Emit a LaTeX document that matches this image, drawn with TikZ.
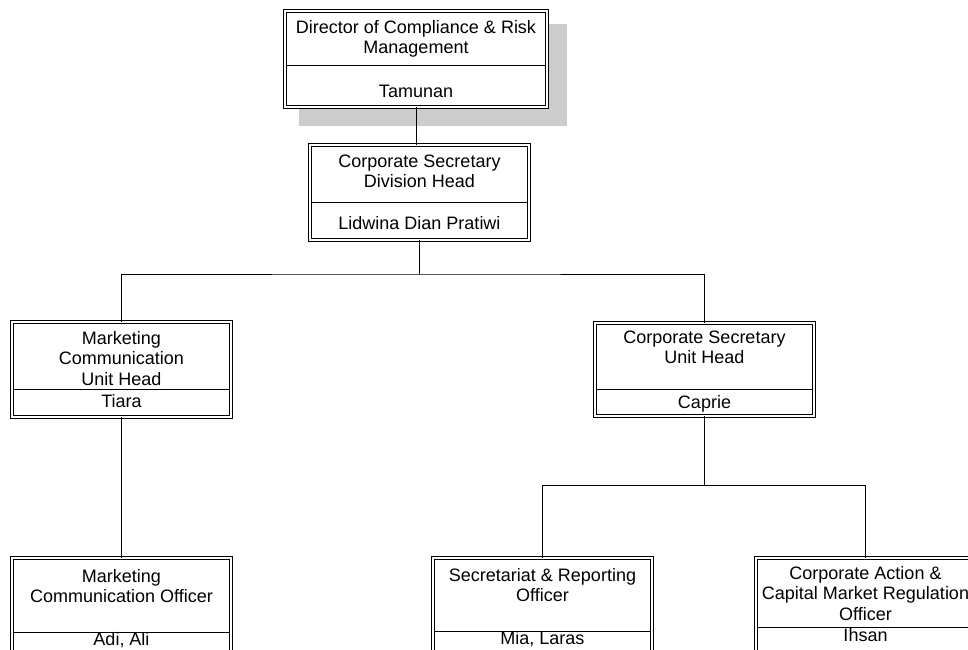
\documentclass[tikz,border=0pt]{standalone}
\usepackage{fontspec}
\setmainfont{Liberation Sans}
\usetikzlibrary{backgrounds}

\begin{document}
\begin{tikzpicture}[x=1pt, y=-1pt]
  \tikzstyle{unit} = [draw, fill=white, double, double distance=2pt, line width=0.9pt, inner sep=0, minimum width=219pt, minimum height=95pt]
  \tikzstyle{jobtext} = [font=\fontsize{18}{20.5}\selectfont, align=center, inner sep=0, anchor=base]
  \tikzstyle{nametext} = [jobtext]
  \tikzstyle{link} = [line width=0.9pt]

  \useasboundingbox (0,0) rectangle (968,649);
  \clip (0,0) rectangle (968,649);

  % boxes
  \node [unit, minimum width=262pt, minimum height=96pt] (U0) at (416,59) {};
  \node [unit] (U1) at (419.5,192.5) {};
  \node [unit] (U2) at (121.5,369.5) {};
  \node [unit, minimum height=93pt] (U3) at (704.5,369.5) {};
  \node [unit] (U4) at (121.5,605.5) {};
  \node [unit] (U5) at (542.5,605.5) {};
  \node [unit] (U6) at (865.5,605.5) {};

  \begin{scope}[on background layer]
    \fill [black!20] ([shift={(14,13)}]U0.north west) rectangle ([shift={(20,19)}]U0.south east);
  \end{scope}

  \foreach \u/\y in {U0/65, U1/202, U2/389, U3/389, U4/632, U5/631, U6/627}
    \draw [link] ([xshift=2pt]\u.west |- 0,\y) -- ([xshift=-2pt]\u.east |- 0,\y);

  % texts (base = last line)
  \node [jobtext] (T0) at (416,53.5) {Director of Compliance \& Risk\\Management};
  \node [nametext] (N0) at (416,97) {Tamunan};
  \node [jobtext] (T1) at (419.5,187.5) {Corporate Secretary\\Division Head};
  \node [nametext] (N1) at (419.5,229) {Lidwina Dian Pratiwi};
  \node [jobtext] (T2) at (121.5,385) {Marketing\\Communication\\Unit Head};
  \node [nametext] (N2) at (121.5,407) {Tiara};
  \node [jobtext] (T3) at (704.5,363.5) {Corporate Secretary\\Unit Head};
  \node [nametext] (N3) at (704.5,408) {Caprie};
  \node [jobtext] (T4) at (121.5,602.5) {Marketing\\Communication Officer};
  \node [nametext] (N4) at (121.5,645) {Adi, Ali};
  \node [jobtext] (T5) at (542.5,601.5) {Secretariat \& Reporting\\Officer};
  \node [nametext] (N5) at (542.5,644) {Mia, Laras};
  \node [jobtext] (T6) at (865.5,620) {Corporate Action \&\\Capital Market Regulation\\Officer};
  \node [nametext] (N6) at (865.5,641) {Ihsan};

  % connectors
  \coordinate (B1) at (U1.south |- 0,274);
  \coordinate (B2) at (U3.south |- 0,485);
  \draw [link] (U0.south) -- (U0.south |- U1.north);
  \draw [link] (U1.south) -- (B1);
  \draw [link] (U2.north) |- (B1) -| (U3.north);
  \draw [link] (U2.south) -- (U4.north);
  \draw [link] (U3.south) -- (B2);
  \draw [link] (U5.north) |- (B2) -| (U6.north);
\end{tikzpicture}
\end{document}
